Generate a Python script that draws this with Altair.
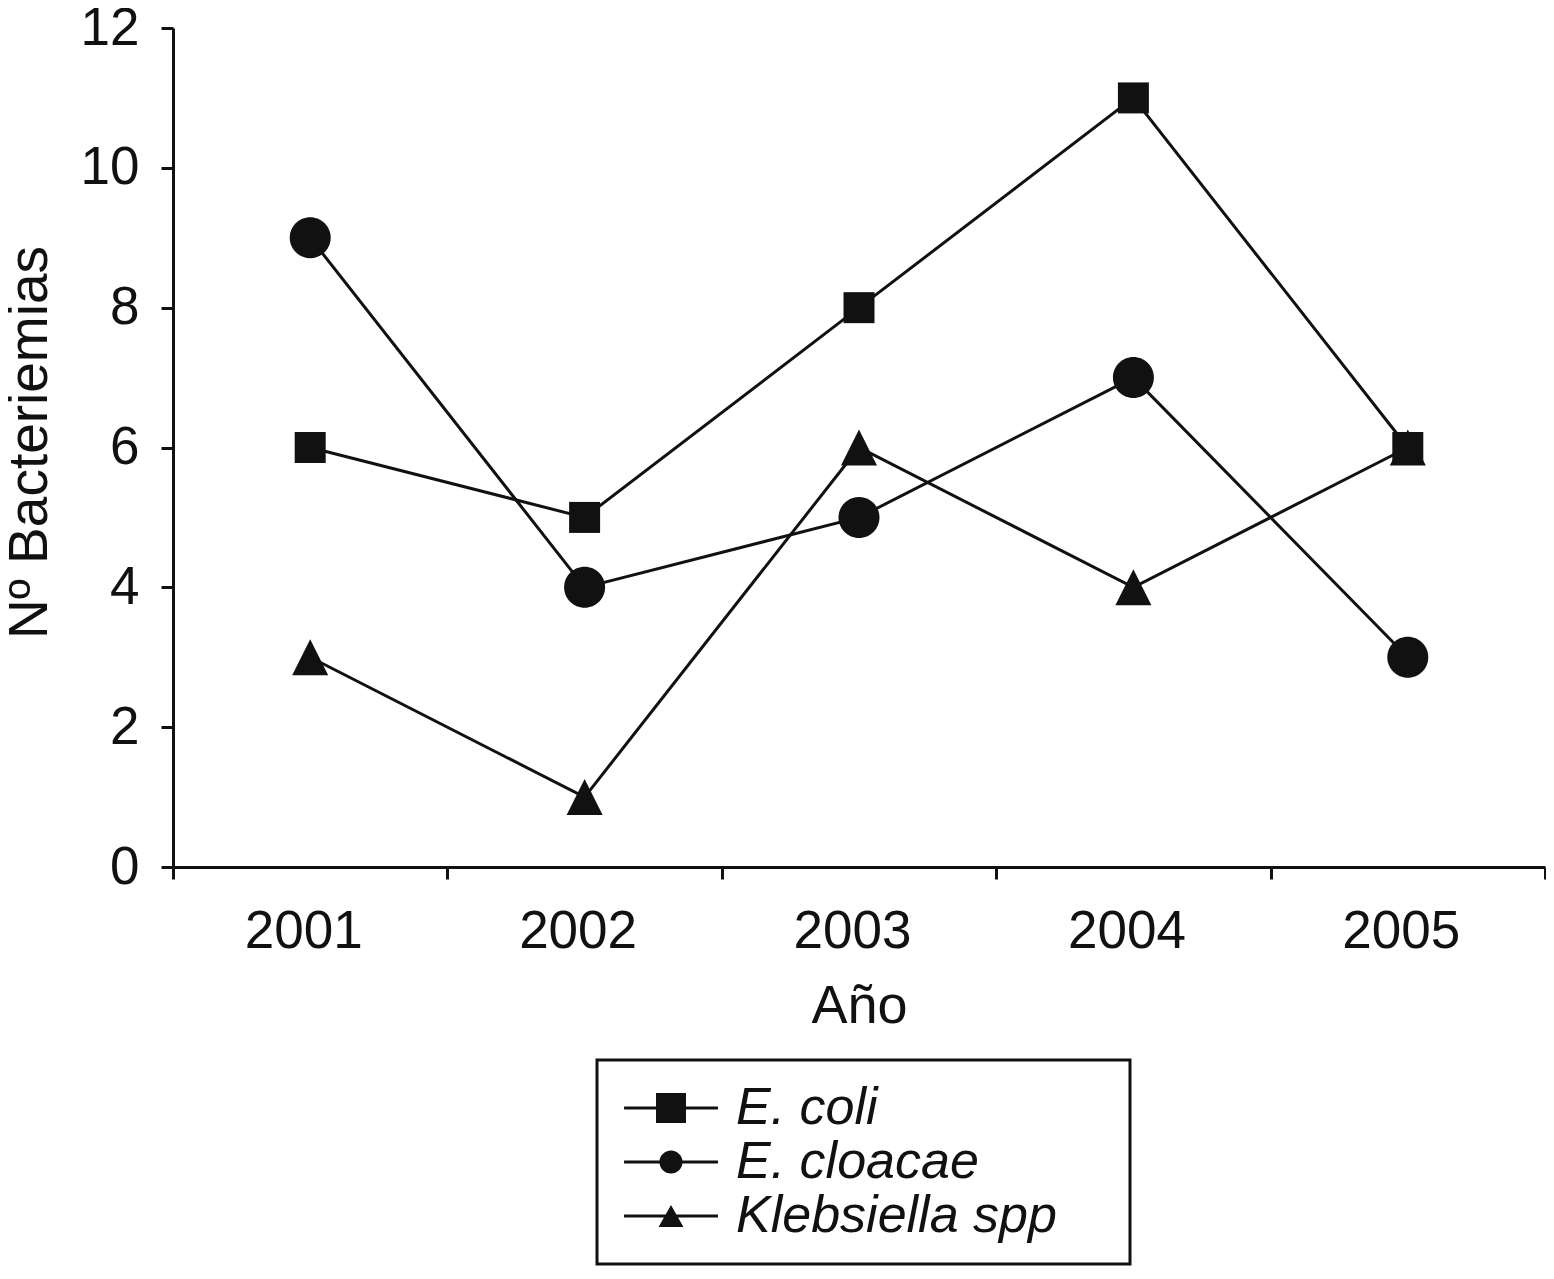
import altair as alt
import pandas as pd

years = ["2001", "2002", "2003", "2004", "2005"]
series = ["E. coli", "E. cloacae", "Klebsiella spp"]
e_coli = [6, 5, 8, 11, 6]
e_cloacae = [9, 4, 5, 7, 3]
klebsiella = [3, 1, 6, 4, 6]

rows = []
for s, vals in zip(series, [e_coli, e_cloacae, klebsiella]):
    for y, v in zip(years, vals):
        rows.append({"year": y, "count": v, "series": s})
df = pd.DataFrame(rows)

INK = "#111111"
FONT = "Liberation Sans"

# plot markers (normalized to [-1, 1])
marker_shapes = [
    "M-0.756,-0.756H0.756V0.756H-0.756Z",
    "M-1,0A1,1 0 1,0 1,0A1,1 0 1,0 -1,0Z",
    "M0,-0.878L0.878,0.878H-0.878Z",
]
# legend symbols: thin bar (line segment) + marker, all filled clockwise;
# the trailing empty sub-path only widens the legend frame.
BAR = "M29.1,0ZM-3.13,-0.1H3.13V0.1H-3.13Z"
legend_shapes = [
    BAR + "M-1,-1H1V1H-1Z",
    BAR + "M-0.77,0A0.77,0.77 0 1,1 0.77,0A0.77,0.77 0 1,1 -0.77,0Z",
    BAR + "M0,-0.73L0.83,0.73H-0.83Z",
]

x_enc = alt.X(
    "year:O",
    bandPosition=0.5,
    scale=alt.Scale(type="band", paddingInner=0, paddingOuter=0),
    axis=alt.Axis(
        title="Año",
        labelAngle=0,
        tickBand="extent",
        labelOffset=-7,
        labelPadding=26,
        labelFontSize=53,
        titleFontSize=54,
        titleBaseline="alphabetic",
        titleY=155,
    ),
)
y_enc = alt.Y(
    "count:Q",
    scale=alt.Scale(domain=[0, 12], nice=False),
    axis=alt.Axis(
        title="Nº Bacteriemias",
        values=[0, 2, 4, 6, 8, 10, 12],
        labelPadding=22,
        labelFontSize=53,
        titleFontSize=55,
        titleAngle=-90,
        titleBaseline="alphabetic",
        titleAlign="center",
        titleX=-127,
        titleY=414,
    ),
)

lines = alt.Chart().mark_line(color=INK, strokeWidth=3).encode(
    x=x_enc, y=y_enc, detail="series:N"
)

points = alt.Chart().mark_point(filled=True, color=INK, opacity=1, size=1681).encode(
    x=x_enc,
    y=y_enc,
    shape=alt.Shape(
        "series:N",
        scale=alt.Scale(domain=series, range=marker_shapes),
        legend=None,
    ),
)

legend_layer = alt.Chart().transform_filter("datum.count < 0").mark_point(
    filled=True, color=INK, opacity=1
).encode(
    x=x_enc,
    y=y_enc,
    shape=alt.Shape(
        "series:N",
        scale=alt.Scale(domain=series, range=legend_shapes),
        legend=alt.Legend(
            title=None,
            orient="none",
            legendX=424,
            legendY=1032,
            padding=22,
            rowPadding=2,
            symbolOffset=26,
            labelOffset=39,
            labelLimit=1000,
            symbolSize=900,
            symbolStrokeWidth=0,
            symbolFillColor=INK,
            symbolOpacity=1,
        ),
    ),
)

chart = (
    alt.layer(lines, points, legend_layer, data=df)
    .resolve_scale(shape="independent")
    .properties(
        width=1372,
        height=839,
        padding={"left": 165, "top": 20, "right": 1, "bottom": 399},
        autosize=alt.AutoSizeParams(type="none"),
        background="white",
    )
    .configure_view(stroke=None)
    .configure_axis(
        grid=False,
        domainColor=INK,
        domainWidth=3,
        tickColor=INK,
        tickWidth=3,
        tickSize=12,
        labelColor=INK,
        titleColor=INK,
        labelFont=FONT,
        titleFont=FONT,
        titleFontWeight="normal",
    )
    .configure_legend(
        strokeColor=INK,
        strokeWidth=3,
        labelFont=FONT,
        labelFontSize=52,
        labelFontStyle="italic",
        labelColor=INK,
    )
)

chart.save("out.html", embed_options={"renderer": "svg", "actions": False})
